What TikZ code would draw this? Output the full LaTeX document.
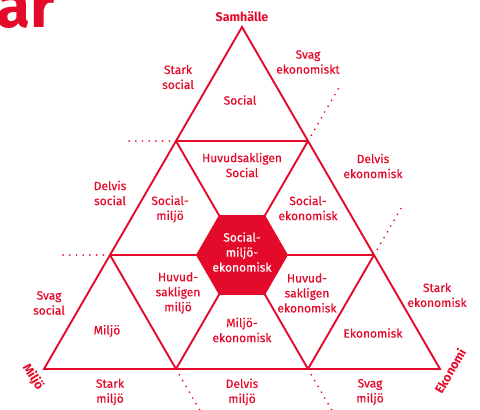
\documentclass[tikz,border=0pt]{standalone}
\usepackage{fontspec}
\setmainfont{Fira Sans}
\newfontfamily\medfont{Fira Sans}[FakeBold=0.5]
\usetikzlibrary{calc}
\definecolor{sfred}{HTML}{E30A2A}

\begin{document}
\begin{tikzpicture}[x=1pt,y=-1pt,
    lbl/.style={text=sfred, align=center, inner sep=0pt, font=\medfont\fontsize{12}{15}\selectfont},
    hrn/.style={text=sfred, inner sep=0pt, font=\bfseries\fontsize{12.5}{15}\selectfont},
    edge/.style={draw=sfred, line width=1.9pt, line join=miter},
    ext/.style={draw=sfred, line width=1.9pt, line cap=round, dash pattern=on 0pt off 6.7pt}]
  \clip (0,0) rectangle (480,410);
  \useasboundingbox (0,0) rectangle (480,410);

  \node[anchor=base west, inner sep=0pt, text=sfred, font=\bfseries\fontsize{62}{62}\selectfont] (rubrik) at (-4,27) {ar};

  \coordinate (s) at (242,27);
  \coordinate (m) at (44,369);
  \coordinate (e) at (440,369);
  \coordinate (t1) at (176,141);
  \coordinate (t2) at (308,141);
  \coordinate (r1) at (110,255);
  \coordinate (ctr) at (242,255);
  \coordinate (r3) at (374,255);
  \coordinate (b1) at (176,369);
  \coordinate (b2) at (308,369);

  \coordinate (x1) at ($(t1)!-0.37!(t2)$);
  \coordinate (x2) at ($(r1)!-0.18!(r3)$);
  \coordinate (x3) at ($(t2)!-0.23!(b1)$);
  \coordinate (x4) at ($(r3)!-0.44!(b2)$);
  \coordinate (x5) at ($(b1)!-0.44!(r1)$);
  \coordinate (x6) at ($(b2)!-0.23!(t1)$);

  \draw[ext] (t1) -- (x1);
  \draw[ext] (r1) -- (x2);
  \draw[ext] (t2) -- (x3);
  \draw[ext] (r3) -- (x4);
  \draw[ext] (b1) -- (x5);
  \draw[ext] (b2) -- (x6);

  \draw[edge] (s) -- (m) -- (e) -- cycle;
  \draw[edge] (t1) -- (t2);
  \draw[edge] (r1) -- (r3);
  \draw[edge] (t2) -- (b1);
  \draw[edge] (r3) -- (b2);
  \draw[edge] (t1) -- (b2);
  \draw[edge] (r1) -- (b1);

  \fill[sfred] (ctr) +(0:46) -- +(60:46) -- +(120:46) -- +(180:46) -- +(240:46) -- +(300:46) -- cycle;

  \node[hrn] (samh) at (242,17) {Samhälle};
  \node[hrn, rotate=-58] (miljo) at (33,377) {Miljö};
  \node[hrn, rotate=60] (ekon) at (450,371) {Ekonomi};

  \node[lbl] (starkSoc) at (178,77) {Stark\\social};
  \node[lbl] (delvisSoc) at (110,193) {Delvis\\social};
  \node[lbl] (svagSoc) at (49,303) {Svag\\social};
  \node[lbl] (svagEko) at (308,62) {Svag\\ekonomiskt};
  \node[lbl] (delvisEko) at (373,166) {Delvis\\ekonomisk};
  \node[lbl] (starkEko) at (437,295) {Stark\\ekonomisk};
  \node[lbl] (starkMil) at (110,392) {Stark\\miljö};
  \node[lbl] (delvisMil) at (242,392) {Delvis\\miljö};
  \node[lbl] (svagMil) at (370,392) {Svag\\miljö};

  \node[lbl] (fSoc) at (240,100) {Social};
  \node[lbl] (fHuvSoc) at (242,165) {Huvudsakligen\\Social};
  \node[lbl] (fSocMil) at (170,209) {Social-\\miljö};
  \node[lbl] (fSocEko) at (308,208) {Social-\\ekonomisk};
  \node[lbl, text=white] (fMix) at (242,252) {Social-\\miljö-\\ekonomisk};
  \node[lbl] (fHuvMil) at (178,293) {Huvud-\\sakligen\\miljö};
  \node[lbl] (fHuvEko) at (307,293) {Huvud-\\sakligen\\ekonomisk};
  \node[lbl] (fMil) at (107,331) {Miljö};
  \node[lbl] (fMilEko) at (242,330) {Miljö-\\ekonomisk};
  \node[lbl] (fEko) at (373,333) {Ekonomisk};
\end{tikzpicture}
\end{document}
